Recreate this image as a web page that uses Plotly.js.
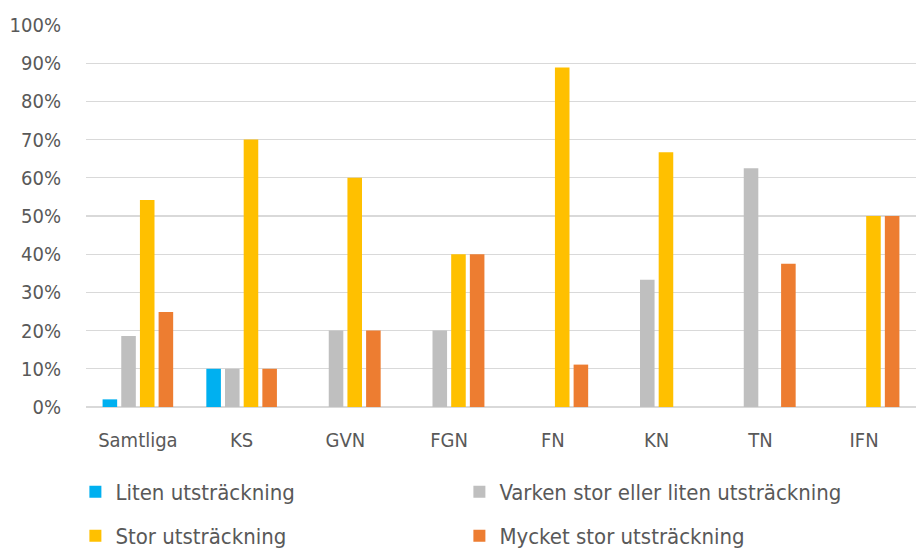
<!DOCTYPE html>
<html>
<head>
<meta charset="utf-8">
<script src="https://cdn.plot.ly/plotly-3.0.1.min.js"></script>
<style>html,body{margin:0;padding:0;background:#fff;}#chart{width:916px;height:549px;}</style>
</head>
<body>
<div id="chart"></div>
<script>
const categories = ["Samtliga", "KS", "GVN", "FGN", "FN", "KN", "TN", "IFN"];
const seriesNames = ["Liten utsträckning", "Varken stor eller liten utsträckning", "Stor utsträckning", "Mycket stor utsträckning"];
const liten   = [2, 10, 0, 0, 0, 0, 0, 0];
const varken  = [18.6, 10, 20, 20, 0, 33.3, 62.5, 0];
const stor    = [54.2, 70, 60, 40, 88.9, 66.7, 0, 50];
const mycket  = [24.9, 10, 20, 40, 11.1, 0, 37.5, 50];
const colors = ["#00B0F0", "#BFBFBF", "#FFC000", "#ED7D31"];
const yTicks = [0,10,20,30,40,50,60,70,80,90,100];

const FONT = '"DejaVu Sans Condensed", "Roboto", sans-serif';
const allValues = [liten, varken, stor, mycket];
const legendFor = ["legend", "legend", "legend2", "legend2"];

const traces = allValues.map((vals, i) => ({
  type: 'bar',
  name: seriesNames[i],
  x: categories,
  y: vals,
  marker: {color: colors[i], line: {width: 0}},
  legend: legendFor[i],
  hoverinfo: 'x+y+name'
}));

const legendBase = {
  orientation: 'h', xref: 'container', yref: 'container',
  x: 0.0823, xanchor: 'left', yanchor: 'middle',
  entrywidth: 339, entrywidthmode: 'pixels',
  font: {size: 22, color: '#595959', family: FONT},
  bgcolor: 'rgba(0,0,0,0)'
};

const layout = {
  width: 916, height: 549,
  margin: {l: 86, r: 0, t: 25, b: 142, autoexpand: false},
  paper_bgcolor: '#ffffff', plot_bgcolor: '#ffffff',
  font: {family: FONT, color: '#595959', size: 20},
  barmode: 'group',
  bargap: 0.28,
  bargroupgap: 0.22,
  xaxis: {
    showgrid: false, showline: false, zeroline: false,
    ticks: '', ticklabelstandoff: 19,
    tickfont: {size: 20, color: '#595959', family: FONT}
  },
  yaxis: {
    range: [0, 100],
    tickvals: yTicks,
    ticktext: yTicks.map(v => v + '%'),
    showgrid: true, gridcolor: '#D9D9D9', gridwidth: 1.3,
    zeroline: true, zerolinecolor: '#D9D9D9', zerolinewidth: 1.5,
    showline: false, ticks: '', ticklabelstandoff: 24,
    tickfont: {size: 20, color: '#595959', family: FONT}
  },
  legend: Object.assign({}, legendBase, {y: 0.1038}),
  legend2: Object.assign({}, legendBase, {y: 0.0237}),
  showlegend: true
};

Plotly.newPlot('chart', traces, layout, {displayModeBar: false, staticPlot: true});
</script>
</body>
</html>
